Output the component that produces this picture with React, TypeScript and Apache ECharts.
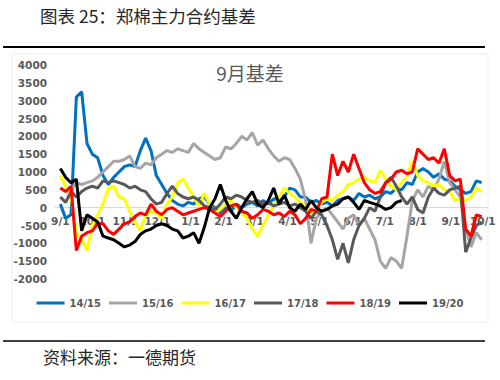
import React, { useEffect, useRef } from "react";
import * as echarts from "echarts";

// Day offsets from 9/1 (5-day sampling)
const days = [
  0, 5, 10, 15, 20, 25, 30, 35, 40, 45, 50, 55, 60, 65, 70, 75, 80, 85, 90, 95,
  100, 105, 110, 115, 120, 125, 130, 135, 140, 145, 150, 155, 160, 165, 170, 175, 180, 185, 190, 195,
  200, 205, 210, 215, 220, 225, 230, 235, 240, 245, 250, 255, 260, 265, 270, 275, 280, 285, 290, 295,
  300, 305, 310, 315, 320, 325, 330, 335, 340, 345, 350, 355, 360, 365, 370, 375, 380, 385, 390, 395,
];

// Month tick positions (days from 9/1) and their labels
const monthDays = [0, 30, 61, 91, 122, 153, 182, 213, 243, 274, 304, 335, 366, 396];
const monthLabels = ["9/1", "10/1", "11/1", "12/1", "1/1", "2/1", "3/1", "4/1", "5/1", "6/1", "7/1", "8/1", "9/1", "10/1"];

const seriesNames = ["14/15", "15/16", "16/17", "17/18", "18/19", "19/20"];

const s1415 = [
  100, -300, -200, 3100, 3250, 1800, 1500, 1400, 900, 650,
  850, 1000, 1150, 1200, 1150, 1600, 1950, 1600, 900, 650,
  400, 200, 100, 50, 150, 100, 250, 300, 100, 0,
  -150, 0, -100, 100, 0, 100, 150, 50, 200, 100,
  250, 200, 300, 550, 500, 300, 300, 150, 200, 100,
  150, 50, 200, 250, 300, 200, 400, 300, 350, 250,
  300, 450, 400, 550, 500, 700, 650, 1000, 1100, 1000,
  850, 950, 800, 750, 600, 500, 400, 450, 750, 700,
];

const s1516 = [
  null, null, 500, 700, 650, 700, 750, 850, 1000, 1150,
  1300, 1300, 1350, 1450, 1150, 1100, 1250, 1200, 1400, 1500,
  1600, 1550, 1650, 1600, 1550, 1800, 1650, 1550, 1450, 1350,
  1400, 1700, 1650, 1800, 2000, 1900, 2100, 1750, 1900, 1650,
  1450, 1300, 1400, 1350, 1100, 800, 200, -1000, -300, -100,
  0, -200, -400, -600, -300, -200, -500, -300, -600, -900,
  -1500, -1700, -1400, -1500, -1700, -800, 200, 500, 300, 600,
  500, 800, 1300, 700, 500, 300, -600, -1100, -700, -900,
];

const s1617 = [
  900, 600, 300, -700, -900, -1200, -500, -200, 100, 550,
  600, 300, 250, -100, -400, -650, -200, -100, -150, -300,
  100, 300, 700, 800, 550, 300, 50, 400, 100, -150,
  -50, 100, 200, 0, -150, -300, -600, -800, -500, -200,
  50, 300, 550, 400, 300, 150, 0, -150, -50, 150,
  250, 200, 350, 450, 650, 700, 800, 850, 750, 700,
  1050, 800, 600, 500, 700, 900, 1300, 900, 750, 700,
  600, 650, 500, 450, 200, 250, 200, 300, 550, 450,
];

const s1718 = [
  300, 150, 450, 300, 450, 550, 600, 550, 750, 700,
  750, 700, 650, 550, 600, 500, 450, 250, 100, 150,
  400, 600, 400, 300, 250, 300, 200, 50, 0, -50,
  100, 300, 250, 350, 300, 200, 150, 200, 100, 150,
  50, 100, 150, 50, 100, 0, -100, -300, -100, -200,
  -500, -900, -1450, -1000, -1550, -900, -500, -300, 0, -100,
  300, 700, 850, 600, 300, 100, 300, -50, -150, 300,
  550, 400, 350, 500, 550, 600, -1250, -850, -500, -400,
];

const s1819 = [
  550, 450, 600, -1200, -800, -700, -650, -450, -450, -650,
  -750, -600, -450, -400, -250, -150, -200, 100, -100, -200,
  -50, 0, -100, -200, -150, -100, -50, 0, -50, -150,
  -250, -100, 50, 100, -100, -150, -300, -200, -50, -100,
  -200, -150, -250, -100, -200, -450, -300, -50, -100, 250,
  300, 1500, 900, 1300, 1000, 1500, 1100, 700, 500, 400,
  450, 700, 800, 1000, 1050, 950, 1000, 1650, 1500, 1350,
  1400, 1250, 1650, 900, 750, 800, -600, -800, -200, -250,
];

const s1920 = [
  1100, 850, 700, 800, -650, -200, -300, -400, -800, -850,
  -900, -1000, -1100, -1050, -950, -750, -650, -600, -500, -450,
  -500, -600, -650, -850, -800, -700, -1000, -550, 0, 250,
  650, 200, -100, -300, 0, 250, 450, 100, 0, 200,
  550, 100, 350, 0, -100, 100, -50, 200, 0, -100,
  -50, 50, 100, 250, 300, 150, -50, 200, 150, 100,
  50, -50, 0, 150, 200, null, null, null, null, null,
  null, null, null, null, null, null, null, null, null, null,
];

const seriesValues = [s1415, s1516, s1617, s1718, s1819, s1920];
const seriesColors = ["#0070C0", "#A5A5A5", "#FFFF00", "#595959", "#FF0000", "#000000"];

const yTicks = { min: -2000, max: 4000, interval: 500 };

const labelColor = "#595959";
const numFont = "DejaVu Sans";
const cjkFont = "Noto Sans CJK SC";

const GRID_TOP = 65;
const GRID_BOTTOM_PX = 279;
const zeroY = GRID_TOP + ((yTicks.max - 0) / (yTicks.max - yTicks.min)) * (GRID_BOTTOM_PX - GRID_TOP);

export default function App() {
  const ref = useRef<HTMLDivElement>(null);

  useEffect(() => {
    if (!ref.current) return;
    const chart = echarts.init(ref.current, null, { renderer: "svg" });

    const series = seriesNames.map((name, k) => ({
      name,
      type: "line",
      data: days.map((d, i) => [d, seriesValues[k][i]]),
      showSymbol: false,
      symbol: "none",
      lineStyle: { color: seriesColors[k], width: 3 },
      itemStyle: { color: seriesColors[k] },
      connectNulls: false,
    }));

    chart.setOption({
      animation: false,
      backgroundColor: "#ffffff",
      title: {
        text: "9月基差",
        left: "center",
        top: 58,
        textStyle: { fontSize: 19, fontWeight: "normal", color: labelColor, fontFamily: cjkFont },
      },
      grid: { left: 55, right: 13, top: GRID_TOP, bottom: 380 - GRID_BOTTOM_PX, containLabel: false },
      xAxis: {
        type: "value",
        min: -5,
        max: 400,
        offset: -(GRID_BOTTOM_PX - zeroY),
        axisLine: { show: true, onZero: false, lineStyle: { color: "#d9d9d9", width: 1 } },
        axisTick: { show: false, customValues: monthDays },
        splitLine: { show: false },
        axisLabel: {
          customValues: monthDays,
          formatter: (v: number) => {
            const idx = monthDays.indexOf(v);
            return idx >= 0 ? monthLabels[idx] : "";
          },
          fontSize: 10.5,
          fontWeight: "bold",
          color: labelColor,
          fontFamily: numFont,
          margin: 8,
        },
      },
      yAxis: {
        type: "value",
        min: yTicks.min,
        max: yTicks.max,
        interval: yTicks.interval,
        axisLine: { show: false },
        axisTick: { show: false },
        splitLine: { show: false },
        axisLabel: {
          formatter: (v: number) => String(v),
          fontSize: 10.5,
          fontWeight: "bold",
          color: labelColor,
          fontFamily: numFont,
          margin: 8,
        },
      },
      legend: {
        data: seriesNames,
        left: "center",
        top: 293,
        icon: "rect",
        itemWidth: 28,
        itemHeight: 3,
        itemGap: 8,
        textStyle: { fontSize: 10, fontWeight: "bold", color: labelColor, fontFamily: numFont },
      },
      graphic: [
        {
          type: "text",
          left: 40,
          top: 7,
          style: { text: "图表 25：郑棉主力合约基差", fontSize: 17.5, fill: "#262626", fontFamily: cjkFont },
        },
        {
          type: "line",
          shape: { x1: 3, y1: 47, x2: 485, y2: 47 },
          style: { stroke: "#000000", lineWidth: 2 },
        },
        {
          type: "rect",
          shape: { x: 12, y: 54, width: 476, height: 268 },
          style: { fill: "none", stroke: "#ececec", lineWidth: 1 },
        },
        {
          type: "line",
          shape: { x1: 3, y1: 341, x2: 485, y2: 341 },
          style: { stroke: "#000000", lineWidth: 1.5 },
        },
        {
          type: "text",
          left: 43,
          top: 348,
          style: { text: "资料来源：一德期货", fontSize: 17, fill: "#262626", fontFamily: cjkFont },
        },
      ],
      series,
    });

    return () => chart.dispose();
  }, []);

  return (
    <div
      ref={ref}
      style={{ position: "fixed", left: 0, top: 0, width: 500, height: 380, background: "#fff" }}
    />
  );
}
